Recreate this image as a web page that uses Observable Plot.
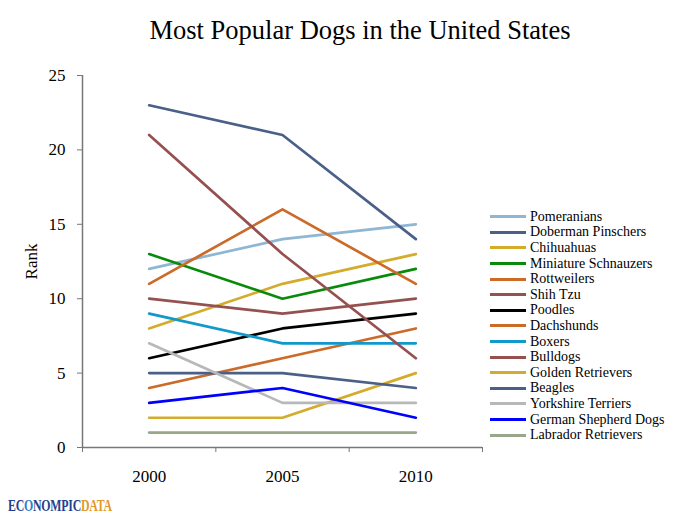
<!DOCTYPE html>
<html>
<head>
<meta charset="utf-8">
<script src="https://cdn.jsdelivr.net/npm/d3@7"></script>
<script src="https://cdn.jsdelivr.net/npm/@observablehq/plot@0.6"></script>
<style>
  body { margin:0; width:692px; height:520px; position:relative; background:#fff; font-family:"Liberation Serif", serif; overflow:hidden; }
  #title { position:absolute; left:0; top:17px; width:720px; text-align:center; font-size:26.5px; line-height:26px; color:#000; }
  #chart { position:absolute; left:0; top:60px; }
  #legend { position:absolute; left:490px; top:209px; font-size:14px; color:#000; }
  .row { display:flex; align-items:center; height:15.6px; white-space:nowrap; }
  .sw { width:36px; height:3px; margin-right:4px; }
  #logo { position:absolute; left:8px; top:498px; font-weight:bold; font-size:16px; line-height:16px; letter-spacing:-0.3px; font-family:"Liberation Serif", serif; transform:scaleX(0.74); transform-origin:0 0; white-space:nowrap; }
</style>
</head>
<body>
<div id="title">Most Popular Dogs in the United States</div>
<div id="chart"></div>
<div id="legend"></div>
<div id="logo"><span style="color:#1f3f8f">EC</span><span style="color:#2a7fd0">O</span><span style="color:#1f3f8f">NOMPIC</span><span style="color:#e29a2a">DATA</span></div>
<script>
const years = [2000, 2005, 2010];
const breeds = ["Pomeranians","Doberman Pinschers","Chihuahuas","Miniature Schnauzers","Rottweilers","Shih Tzu","Poodles","Dachshunds","Boxers","Bulldogs","Golden Retrievers","Beagles","Yorkshire Terriers","German Shepherd Dogs","Labrador Retrievers"];
const colors = ["#8fb6d2","#4a6089","#d4ac2c","#0a8a0a","#cc6a28","#955050","#000000","#cc6a28","#1199cc","#955050","#d4ac2c","#4a6089","#b8b8b8","#0000ff","#98a68a"];
const rank2000 = [12, 23, 8, 13, 11, 10, 6, 4, 9, 21, 2, 5, 7, 3, 1];
const rank2005 = [14, 21, 11, 10, 16, 9, 8, 6, 7, 13, 2, 5, 3, 4, 1];
const rank2010 = [15, 14, 13, 12, 11, 10, 9, 8, 7, 6, 5, 4, 3, 2, 1];
const yTicks = [0, 5, 10, 15, 20, 25];

const rankByYear = [rank2000, rank2005, rank2010];
const data = [];
breeds.forEach((b, i) => years.forEach((yr, j) => data.push({breed: b, year: yr, rank: rankByYear[j][i]})));

const step = years[1] - years[0];
const bounds = [years[0] - step/2, ...years.map(y => y + step/2)];

const chart = Plot.plot({
  width: 692,
  height: 440,
  marginLeft: 82,
  marginRight: 210,
  marginTop: 15,
  marginBottom: 53,
  style: {fontFamily: "Liberation Serif, serif", fontSize: "17px", color: "#000", background: "transparent"},
  x: {domain: [bounds[0], bounds[bounds.length-1]]},
  y: {domain: [0, 25]},
  color: {domain: breeds, range: colors},
  marks: [
    Plot.axisY({ticks: yTicks, tickSize: 5, tickPadding: 12, fontSize: 17, label: "Rank", labelAnchor: "center", labelOffset: 58, labelArrow: "none", stroke: "#777"}),
    Plot.axisX({ticks: bounds, tickSize: 5, tickFormat: () => "", label: null, stroke: "#777"}),
    Plot.axisX({ticks: years, tickSize: 0, tickPadding: 22, tickFormat: d => String(d), fontSize: 17, label: null}),
    Plot.ruleX([bounds[0]], {stroke: "#777", strokeWidth: 1.5}),
    Plot.ruleY([0], {stroke: "#777", strokeWidth: 1.5}),
    Plot.line(data, {x: "year", y: "rank", z: "breed", stroke: "breed", strokeWidth: 2.7, curve: "linear"})
  ]
});
document.getElementById("chart").appendChild(chart);

const legend = document.getElementById("legend");
breeds.forEach((b, i) => {
  const row = document.createElement("div");
  row.className = "row";
  const sw = document.createElement("span");
  sw.className = "sw";
  sw.style.background = colors[i];
  const t = document.createElement("span");
  t.textContent = b;
  row.appendChild(sw); row.appendChild(t);
  legend.appendChild(row);
});
</script>
</body>
</html>
